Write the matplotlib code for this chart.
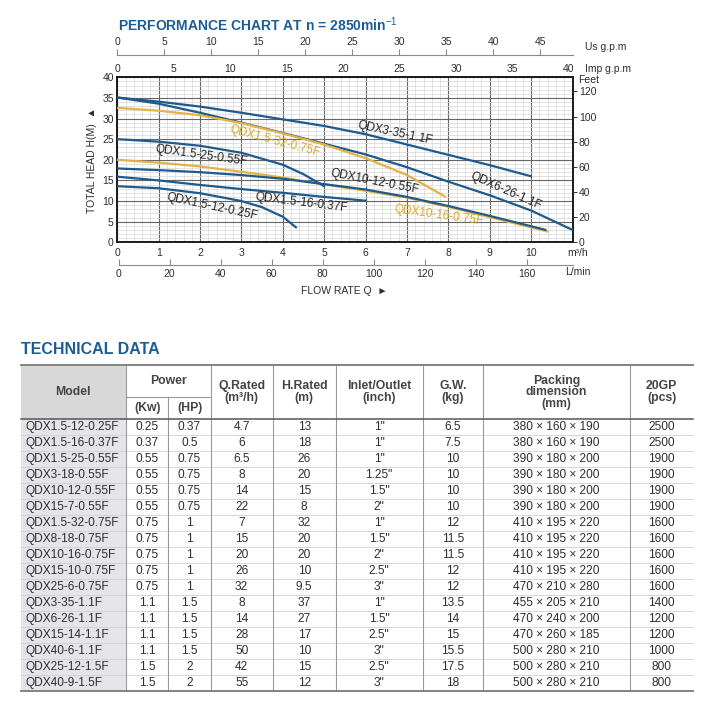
import matplotlib
matplotlib.use("Agg")
import matplotlib.pyplot as plt
from matplotlib.ticker import MultipleLocator

plt.rcParams['font.family'] = ['Liberation Sans', 'DejaVu Sans']
plt.rcParams['mathtext.fontset'] = 'custom'
plt.rcParams['mathtext.rm'] = 'Liberation Sans'
plt.rcParams['mathtext.it'] = 'Liberation Sans:italic'
plt.rcParams['mathtext.bf'] = 'Liberation Sans:bold'

# ---------------- chart data (flow m3/h, head m) ----------------
q_3_35 = [0, 1, 2, 3, 4, 5, 6, 7, 8, 9, 10]
h_3_35 = [35.1, 34.1, 32.9, 31.4, 29.8, 28.2, 26.2, 23.7, 21.2, 18.7, 16.0]

q_6_26 = [0, 1, 2, 3, 4, 5, 6, 7, 8, 9, 10, 11]
h_6_26 = [35.1, 33.6, 31.4, 29.0, 26.5, 23.9, 21.3, 18.2, 14.7, 11.4, 7.7, 3.0]

q_1_32 = [0, 1, 2, 3, 4, 5, 6, 7, 7.92]
h_1_32 = [32.6, 31.9, 30.8, 28.9, 26.4, 23.7, 20.4, 16.3, 11.1]

q_10_16 = [0, 1, 2, 3, 4, 5, 6, 7, 8, 9, 10, 10.4]
h_10_16 = [20.0, 19.3, 18.4, 17.1, 15.7, 14.0, 12.5, 10.8, 8.6, 6.1, 3.6, 2.6]

q_10_12 = [0, 1, 2, 3, 4, 5, 6, 7, 8, 9, 10, 10.35]
h_10_12 = [17.9, 17.5, 17.0, 16.3, 15.4, 14.1, 12.8, 11.0, 8.8, 6.4, 3.9, 3.0]

q_1_25 = [0, 1, 2, 3, 4, 4.5, 5]
h_1_25 = [25.0, 24.4, 23.4, 21.7, 18.8, 16.5, 13.6]

q_1_16 = [0, 1, 2, 3, 4, 5, 6]
h_1_16 = [15.9, 15.0, 13.9, 12.9, 12.0, 11.0, 10.1]

q_1_12 = [0, 1, 2, 3, 3.5, 4, 4.32]
h_1_12 = [13.6, 13.1, 11.9, 10.0, 8.5, 6.2, 3.6]

curve_names = ["QDX3-35-1.1F", "QDX6-26-1.1F", "QDX1.5-32-0.75F", "QDX10-16-0.75F",
               "QDX10-12-0.55F", "QDX1.5-25-0.55F", "QDX1.5-16-0.37F", "QDX1.5-12-0.25F"]
curve_q = [q_3_35, q_6_26, q_1_32, q_10_16, q_10_12, q_1_25, q_1_16, q_1_12]
curve_h = [h_3_35, h_6_26, h_1_32, h_10_16, h_10_12, h_1_25, h_1_16, h_1_12]
curve_gold = [False, False, True, True, False, False, False, False]
# label anchor (flow, head) and rotation
label_q = [6.71, 9.38, 3.82, 7.78, 6.21, 2.03, 4.44, 2.29]
label_h = [26.5, 12.3, 24.4, 6.6, 14.6, 21.0, 9.7, 8.6]
label_rot = [-12, -24, -15, -8, -11, -8, -7, -12]

xticks_m3h = list(range(0, 11))
yticks_m = list(range(0, 41, 5))
yticks_ft = list(range(0, 121, 20))
xticks_imp = list(range(0, 41, 5))
xticks_us = list(range(0, 46, 5))
xticks_lmin = list(range(0, 161, 20))

# ---------------- table data ----------------
models = ["QDX1.5-12-0.25F", "QDX1.5-16-0.37F", "QDX1.5-25-0.55F", "QDX3-18-0.55F",
          "QDX10-12-0.55F", "QDX15-7-0.55F", "QDX1.5-32-0.75F", "QDX8-18-0.75F",
          "QDX10-16-0.75F", "QDX15-10-0.75F", "QDX25-6-0.75F", "QDX3-35-1.1F",
          "QDX6-26-1.1F", "QDX15-14-1.1F", "QDX40-6-1.1F", "QDX25-12-1.5F", "QDX40-9-1.5F"]
power_kw = ["0.25", "0.37", "0.55", "0.55", "0.55", "0.55", "0.75", "0.75", "0.75",
            "0.75", "0.75", "1.1", "1.1", "1.1", "1.1", "1.5", "1.5"]
power_hp = ["0.37", "0.5", "0.75", "0.75", "0.75", "0.75", "1", "1", "1", "1", "1",
            "1.5", "1.5", "1.5", "1.5", "2", "2"]
q_rated = ["4.7", "6", "6.5", "8", "14", "22", "7", "15", "20", "26", "32", "8", "14",
           "28", "50", "42", "55"]
h_rated = ["13", "18", "26", "20", "15", "8", "32", "20", "20", "10", "9.5", "37", "27",
           "17", "10", "15", "12"]
inlet = ['1"', '1"', '1"', '1.25"', '1.5"', '2"', '1"', '1.5"', '2"', '2.5"', '3"', '1"',
         '1.5"', '2.5"', '3"', '2.5"', '3"']
gw = ["6.5", "7.5", "10", "10", "10", "10", "12", "11.5", "11.5", "12", "12", "13.5",
      "14", "15", "15.5", "17.5", "18"]
packing = ["380 × 160 × 190", "380 × 160 × 190", "390 × 180 × 200", "390 × 180 × 200",
           "390 × 180 × 200", "390 × 180 × 200", "410 × 195 × 220", "410 × 195 × 220",
           "410 × 195 × 220", "410 × 195 × 220", "470 × 210 × 280", "455 × 205 × 210",
           "470 × 240 × 200", "470 × 260 × 185", "500 × 280 × 210", "500 × 280 × 210",
           "500 × 280 × 210"]
gp20 = ["2500", "2500", "1900", "1900", "1900", "1900", "1600", "1600", "1600", "1600",
        "1600", "1400", "1200", "1200", "1000", "800", "800"]

# ---------------- figure ----------------
W, H = 714, 703
fig = plt.figure(figsize=(W / 100, H / 100), dpi=100)
fig.patch.set_facecolor('white')


def box(l, t, r, b):
    return [l / W, 1 - b / H, (r - l) / W, (b - t) / H]


BLUE = '#1e5a8c'
GOLD = '#e3b343'
TITLE = '#1b5d96'
TXT = '#2e2e2e'

ov = fig.add_axes([0, 0, 1, 1])
ov.set_xlim(0, W)
ov.set_ylim(H, 0)
ov.axis('off')

PL, PR, PT, PB = 117.3, 572.5, 77.3, 242.3
QMAX = 11.0
IMP = 1000 / 60 / 4.54609
USG = 1000 / 60 / 3.785412
FT = 3.28084

ax = fig.add_axes(box(PL, PT, PR, PB))
ax.set_xlim(0, QMAX)
ax.set_ylim(0, 40)
ax.set_xticks(xticks_m3h)
ax.set_yticks(yticks_m)
ax.xaxis.set_minor_locator(MultipleLocator(0.2))
ax.yaxis.set_minor_locator(MultipleLocator(1))
ax.grid(which='minor', color='#d6d6d6', lw=0.5)
ax.grid(which='major', color='#666666', lw=0.8)
ax.set_axisbelow(True)
ax.tick_params(which='both', length=0)
ax.tick_params(axis='x', pad=4, labelsize=7.5, labelcolor=TXT)
ax.tick_params(axis='y', pad=2.5, labelsize=7.5, labelcolor=TXT)
for s in ax.spines.values():
    s.set_linewidth(1.4)
    s.set_color('#1a1a1a')

for name, qs, hs, gold, lq, lh, rot in zip(curve_names, curve_q, curve_h, curve_gold,
                                           label_q, label_h, label_rot):
    ax.plot(qs, hs, color=GOLD if gold else BLUE, lw=1.6, solid_capstyle='round', zorder=3)
    ax.text(lq, lh, name, rotation=rot, rotation_mode='anchor', ha='center', va='center',
            fontsize=8.5, color='#d9a92e' if gold else '#222222', zorder=4)

# right feet axis
axr = ax.twinx()
axr.set_ylim(0, 40 * FT)
axr.set_yticks(yticks_ft)
axr.tick_params(axis='y', direction='out', length=3, width=0.7, pad=1.5,
                labelsize=7.5, labelcolor=TXT, color='#333')
for s in axr.spines.values():
    s.set_visible(False)

# top imperial gpm axis
sec = ax.secondary_xaxis('top', functions=(lambda q: q * IMP, lambda g: g / IMP))
sec.set_xticks(xticks_imp)
sec.tick_params(length=0, pad=2.5, labelsize=7.5, labelcolor=TXT)
sec.spines['top'].set_visible(False)

# US gpm axis (separate line above)
axu = fig.add_axes(box(PL, 55.3, PR, 60))
axu.set_xlim(0, QMAX * USG)
axu.patch.set_visible(False)
for k in ['left', 'right', 'bottom']:
    axu.spines[k].set_visible(False)
axu.spines['top'].set_color('#8a8a8a')
axu.spines['top'].set_linewidth(0.8)
axu.set_yticks([])
axu.xaxis.tick_top()
axu.set_xticks(xticks_us)
axu.tick_params(axis='x', direction='out', length=4, width=0.8, color='#8a8a8a',
                pad=2, labelsize=7.5, labelcolor=TXT)

# L/min axis (separate line below)
LMIN_MAX = 177.8
axl = fig.add_axes(box(PL + 1.2, 250, PR, 264.7))
axl.set_xlim(0, LMIN_MAX)
axl.patch.set_visible(False)
for k in ['left', 'right', 'top']:
    axl.spines[k].set_visible(False)
axl.spines['bottom'].set_color('#8a8a8a')
axl.spines['bottom'].set_linewidth(0.8)
axl.set_yticks([])
axl.set_xticks(xticks_lmin)
axl.tick_params(axis='x', direction='in', length=4.5, width=0.8, color='#8a8a8a',
                pad=3, labelsize=7.5, labelcolor=TXT)

# chart texts
ov.text(118, 25, "PERFORMANCE CHART AT n = 2850min$^{-1}$", fontsize=10,
        fontweight='bold', color=TITLE, ha='left', va='center')
ov.text(585, 47, "Us g.p.m", fontsize=7.5, color=TXT, ha='left', va='center')
ov.text(585, 69, "Imp g.p.m", fontsize=7.5, color=TXT, ha='left', va='center')
ov.text(578, 80, "Feet", fontsize=7.5, color=TXT, ha='left', va='center')
ov.text(567, 253, "m³/h", fontsize=7.5, color=TXT, ha='left', va='center')
ov.text(565, 272, "L/min", fontsize=7.5, color=TXT, ha='left', va='center')
ov.text(92, 160, "TOTAL HEAD H(M)  ▲", rotation=90, fontsize=7.5, color=TXT,
        ha='center', va='center')
ov.text(344, 291, "FLOW RATE Q  ►", fontsize=7.5, color=TXT, ha='center', va='center')

# ---------------- table ----------------
ov.text(21, 350, "TECHNICAL DATA", fontsize=11.5, fontweight='bold', color=TITLE,
        ha='left', va='center')

cols = [20.7, 126, 168.3, 210.7, 272.7, 335.7, 422.7, 483.3, 630, 693.3]
T_TOP, T_SPLIT, T_HEAD = 365, 396.7, 419.3
ROW_H = 15.97
n = len(models)
T_BOT = T_HEAD + n * ROW_H

ov.add_patch(plt.Rectangle((cols[0], T_TOP), cols[1] - cols[0], T_HEAD - T_TOP,
                           facecolor='#d8d8d8', edgecolor='none', zorder=0))
ov.add_patch(plt.Rectangle((cols[0], T_HEAD), cols[1] - cols[0], T_BOT - T_HEAD,
                           facecolor='#e5e5e9', edgecolor='none', zorder=0))

for i in range(1, n):
    y = T_HEAD + i * ROW_H
    ov.plot([cols[0], cols[-1]], [y, y], color='#d0d0d0', lw=0.6, zorder=1)
for x in [cols[1], cols[3], cols[4], cols[5], cols[6], cols[7], cols[8]]:
    ov.plot([x, x], [T_TOP, T_BOT], color='#9a9a9a', lw=0.8, zorder=1)
ov.plot([cols[2], cols[2]], [T_SPLIT, T_BOT], color='#9a9a9a', lw=0.8, zorder=1)
ov.plot([cols[1], cols[3]], [T_SPLIT, T_SPLIT], color='#9a9a9a', lw=0.8, zorder=1)
ov.plot([cols[0], cols[-1]], [T_TOP, T_TOP], color='#7a7a7a', lw=1.3, zorder=2)
ov.plot([cols[0], cols[-1]], [T_HEAD, T_HEAD], color='#555555', lw=1.1, zorder=2)
ov.plot([cols[0], cols[-1]], [T_BOT, T_BOT], color='#7a7a7a', lw=1.3, zorder=2)

HC = '#444444'
hmid = (T_TOP + T_HEAD) / 2
hk = dict(fontsize=8.8, fontweight='bold', color=HC, ha='center', va='center',
          linespacing=0.95)
ov.text((cols[0] + cols[1]) / 2, hmid, "Model", **hk)
ov.text((cols[1] + cols[3]) / 2, (T_TOP + T_SPLIT) / 2, "Power", **hk)
ov.text((cols[1] + cols[2]) / 2, (T_SPLIT + T_HEAD) / 2, "(Kw)", **hk)
ov.text((cols[2] + cols[3]) / 2, (T_SPLIT + T_HEAD) / 2, "(HP)", **hk)
ov.text((cols[3] + cols[4]) / 2, hmid, "Q.Rated\n(m³/h)", **hk)
ov.text((cols[4] + cols[5]) / 2, hmid, "H.Rated\n(m)", **hk)
ov.text((cols[5] + cols[6]) / 2, hmid, "Inlet/Outlet\n(inch)", **hk)
ov.text((cols[6] + cols[7]) / 2, hmid, "G.W.\n(kg)", **hk)
ov.text((cols[7] + cols[8]) / 2, hmid, "Packing\ndimension\n(mm)", **hk)
ov.text((cols[8] + cols[9]) / 2, hmid, "20GP\n(pcs)", **hk)

bk = dict(fontsize=8.6, color=TXT, va='center')
for i in range(n):
    y = T_HEAD + (i + 0.5) * ROW_H
    ov.text(25, y, models[i], ha='left', **bk)
    vals = [power_kw[i], power_hp[i], q_rated[i], h_rated[i], inlet[i], gw[i],
            packing[i], gp20[i]]
    for j, v in enumerate(vals):
        ov.text((cols[j + 1] + cols[j + 2]) / 2, y, v, ha='center', **bk)

fig.savefig("out.png", dpi=100, facecolor='white')
